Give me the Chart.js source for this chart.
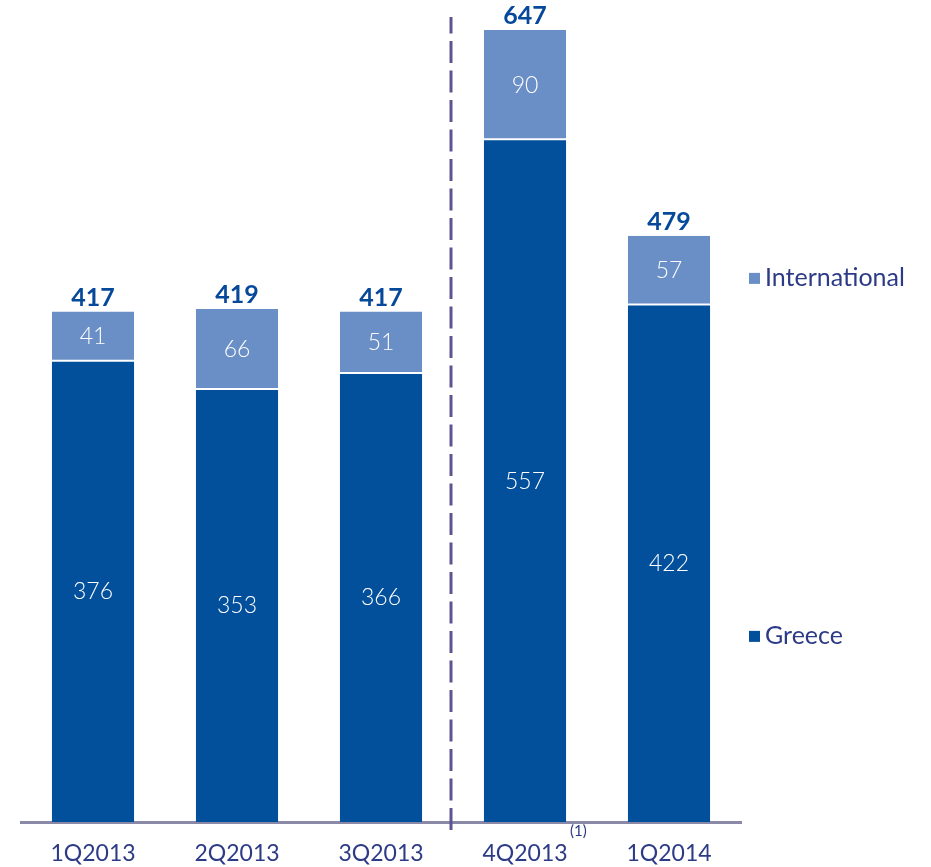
<!DOCTYPE html>
<html>
<head>
<meta charset="utf-8">
<script src="https://cdn.jsdelivr.net/npm/chart.js@4.4.1/dist/chart.umd.min.js"></script>
<style>
  html, body { margin: 0; padding: 0; background: #fff; overflow: hidden; }
  #wrap { width: 931px; height: 867px; position: relative; }
</style>
</head>
<body>
<div id="wrap"><canvas id="grafico"></canvas></div>
<script>
// Trimestres y valores por región
const trimestres = ["1Q2013", "2Q2013", "3Q2013", "4Q2013", "1Q2014"];
const valoresGrecia = [376, 353, 366, 557, 422];
const valoresInternacional = [41, 66, 51, 90, 57];
const totales = [417, 419, 417, 647, 479];
const notaTrimestre = "(1)";
const indiceNota = 3;

const colorGrecia = "#024f9c";
const colorInternacional = "#6a8fc6";
const colorTexto = "#2d3b86";
const colorTotal = "#06489a";
const fuente = "Lato, 'Open Sans', sans-serif";

// Etiquetas dentro de los segmentos y totales arriba
const etiquetas = {
    id: "etiquetas",
    afterDatasetsDraw(chart) {
        const ctx = chart.ctx;
        ctx.save();
        ctx.textAlign = "center";
        ctx.textBaseline = "middle";
        ctx.fillStyle = "#ffffff";
        ctx.font = "300 23px " + fuente;
        chart.data.datasets.forEach((ds, i) => {
            chart.getDatasetMeta(i).data.forEach((barra, j) => {
                const y = (barra.y + barra.base) / 2;
                ctx.fillText(String(ds.data[j]), barra.x, y);
            });
        });
        const meta = chart.getDatasetMeta(1);
        ctx.fillStyle = colorTotal;
        ctx.font = "bold 25px " + fuente;
        ctx.textBaseline = "alphabetic";
        meta.data.forEach((barra, j) => {
            ctx.fillText(String(totales[j]), barra.x, barra.y - 6);
        });
        ctx.restore();
    }
};

// Línea discontinua entre 3Q2013 y 4Q2013, nota (1) y leyenda
const extras = {
    id: "extras",
    afterDraw(chart) {
        const ctx = chart.ctx;
        const x = chart.scales.x;
        const area = chart.chartArea;
        const xCorte = (x.getPixelForValue(2) + x.getPixelForValue(3)) / 2 - 2;
        ctx.save();
        ctx.strokeStyle = "#5e5491";
        ctx.lineWidth = 3;
        ctx.setLineDash([22, 7.5]);
        ctx.beginPath();
        // se traza de abajo hacia arriba para que un trazo cruce el eje
        ctx.moveTo(xCorte, area.bottom + 8);
        ctx.lineTo(xCorte, 17);
        ctx.stroke();
        ctx.setLineDash([]);

        // nota al pie sobre 4Q2013
        ctx.fillStyle = colorTexto;
        ctx.font = "15px " + fuente;
        ctx.textAlign = "left";
        ctx.textBaseline = "middle";
        ctx.fillText(notaTrimestre, x.getPixelForValue(indiceNota) + 45, area.bottom + 9);

        // leyenda a la derecha
        const items = [
            { ds: chart.data.datasets[1], frac: 0.313 },
            { ds: chart.data.datasets[0], frac: 0.765 }
        ];
        ctx.font = "25px " + fuente;
        items.forEach(it => {
            const y = area.top + (area.bottom - area.top) * it.frac;
            ctx.fillStyle = it.ds.backgroundColor;
            ctx.fillRect(area.right + 8, y - 5, 11, 11);
            ctx.fillStyle = colorTexto;
            ctx.fillText(it.ds.label, area.right + 24, y);
        });
        ctx.restore();
    }
};

const configuracion = {
    type: "bar",
    data: {
        labels: trimestres,
        datasets: [
            {
                label: "Greece",
                data: valoresGrecia,
                backgroundColor: colorGrecia,
                borderWidth: 0
            },
            {
                label: "International",
                data: valoresInternacional,
                backgroundColor: colorInternacional,
                borderColor: "#ffffff",
                borderWidth: { top: 0, left: 0, right: 0, bottom: 2 },
                borderSkipped: false
            }
        ]
    },
    options: {
        responsive: true,
        maintainAspectRatio: false,
        animation: false,
        layout: { padding: { left: 21, right: 190, top: 30, bottom: 0 } },
        datasets: { bar: { categoryPercentage: 1, barPercentage: 0.57 } },
        plugins: { legend: { display: false }, tooltip: { enabled: false } },
        scales: {
            x: {
                stacked: true,
                grid: { display: false, drawTicks: false },
                border: { color: "#8a89a8", width: 3 },
                ticks: { color: colorTexto, font: { family: fuente, size: 23 }, padding: 18 },
                afterFit(scale) { scale.height = 45; }
            },
            y: {
                stacked: true,
                display: false,
                min: 0,
                max: 647
            }
        }
    },
    plugins: [etiquetas, extras]
};

new Chart(document.querySelector("#grafico"), configuracion);
</script>
</body>
</html>
